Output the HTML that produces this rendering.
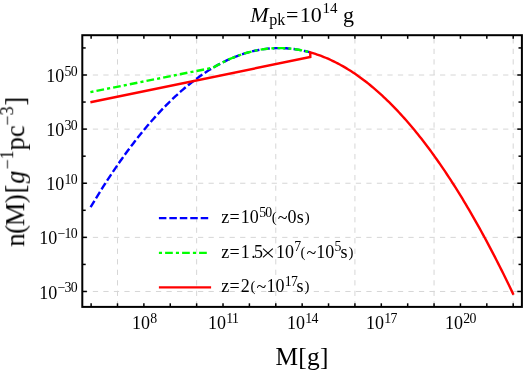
<!DOCTYPE html>
<html><head><meta charset="utf-8"><title>plot</title>
<style>html,body{margin:0;padding:0;background:#fff;}body{width:526px;height:373px;position:relative;overflow:hidden;font-family:"Liberation Serif",serif;}</style>
</head><body>
<svg width="526" height="373" viewBox="0 0 526 373" style="position:absolute;left:0;top:0">
<defs><filter id="nf" x="0" y="0" width="526" height="373" filterUnits="userSpaceOnUse" color-interpolation-filters="sRGB"><feOffset dx="0" dy="0"/></filter></defs>
<rect width="526" height="373" fill="#fff"/>
<g stroke="#d6d6d6" stroke-width="1" stroke-dasharray="5.26,5.26" fill="none">
<line x1="117.50" x2="117.50" y1="306.50" y2="35.20"/>
<line x1="196.64" x2="196.64" y1="306.50" y2="35.20"/>
<line x1="275.78" x2="275.78" y1="306.50" y2="35.20"/>
<line x1="354.92" x2="354.92" y1="306.50" y2="35.20"/>
<line x1="434.06" x2="434.06" y1="306.50" y2="35.20"/>
<line x1="513.20" x2="513.20" y1="306.50" y2="35.20"/>
<line x1="82.30" x2="521.90" y1="75.00" y2="75.00"/>
<line x1="82.30" x2="521.90" y1="129.12" y2="129.12"/>
<line x1="82.30" x2="521.90" y1="183.24" y2="183.24"/>
<line x1="82.30" x2="521.90" y1="237.36" y2="237.36"/>
<line x1="82.30" x2="521.90" y1="291.48" y2="291.48"/>
</g>
<g fill="none" stroke-width="2.4" stroke-linejoin="miter">
<path d="M90.60,207.23 L92.45,204.14 L94.29,201.07 L96.14,198.03 L97.98,195.02 L99.83,192.04 L101.68,189.10 L103.52,186.18 L105.37,183.29 L107.22,180.44 L109.06,177.61 L110.91,174.82 L112.75,172.05 L114.60,169.32 L116.45,166.62 L118.29,163.94 L120.14,161.30 L121.99,158.69 L123.83,156.11 L125.68,153.56 L127.52,151.04 L129.37,148.55 L131.22,146.09 L133.06,143.66 L134.91,141.26 L136.76,138.90 L138.60,136.56 L140.45,134.25 L142.29,131.97 L144.14,129.73 L145.99,127.51 L147.83,125.33 L149.68,123.17 L151.53,121.05 L153.37,118.96 L155.22,116.89 L157.06,114.86 L158.91,112.86 L160.76,110.89 L162.60,108.95 L164.45,107.04 L166.29,105.15 L168.14,103.31 L169.99,101.49 L171.83,99.70 L173.68,97.94 L175.53,96.21 L177.37,94.51 L179.22,92.85 L181.06,91.21 L182.91,89.60 L184.76,88.03 L186.60,86.48 L188.45,84.97 L190.30,83.49 L192.14,82.03 L193.99,80.61 L195.83,79.22 L197.68,77.86 L199.53,76.52 L201.37,75.22 L203.22,73.95 L205.07,72.71 L206.91,71.50 L208.76,70.32 L210.60,69.17 L212.45,68.06 L214.30,66.97 L216.14,65.91 L217.99,64.88 L219.84,63.89 L221.68,62.92 L223.53,61.99 L225.37,61.08 L227.22,60.21 L229.07,59.36 L230.91,58.55 L232.76,57.77 L234.61,57.02 L236.45,56.29 L238.30,55.60 L240.14,54.94 L241.99,54.31 L243.84,53.71 L245.68,53.14 L247.53,52.60 L249.37,52.09 L251.22,51.62 L253.07,51.17 L254.91,50.75 L256.76,50.36 L258.61,50.01 L260.45,49.68 L262.30,49.39 L264.14,49.12 L265.99,48.89 L267.84,48.68 L269.68,48.51 L271.53,48.37 L273.38,48.25 L275.22,48.17 L277.07,48.12 L278.91,48.10 L280.76,48.11 L282.61,48.15 L284.45,48.22 L286.30,48.32 L288.15,48.45 L289.99,48.62 L291.84,48.81 L293.68,49.03 L295.53,49.28 L297.38,49.57 L299.22,49.88 L301.07,50.23 L302.92,50.60 L304.76,51.01 L306.61,51.45 L308.45,51.91 L310.30,52.41" stroke="#0000ff" stroke-dasharray="7.5,2.95"/>
<path d="M90.40,92.10 L212.30,67.84 L213.96,67.16 L215.62,66.21 L217.28,65.27 L218.94,64.37 L220.61,63.48 L222.27,62.62 L223.93,61.79 L225.59,60.98 L227.25,60.19 L228.91,59.43 L230.57,58.70 L232.23,57.99 L233.89,57.30 L235.55,56.64 L237.22,56.00 L238.88,55.39 L240.54,54.80 L242.20,54.24 L243.86,53.70 L245.52,53.19 L247.18,52.70 L248.84,52.24 L250.50,51.80 L252.16,51.38 L253.83,50.99 L255.49,50.63 L257.15,50.29 L258.81,49.97 L260.47,49.68 L262.13,49.41 L263.79,49.17 L265.45,48.95 L267.11,48.76 L268.77,48.59 L270.44,48.45 L272.10,48.33 L273.76,48.24 L275.42,48.17 L277.08,48.12 L278.74,48.10 L280.40,48.11 L282.06,48.14 L283.72,48.19 L285.38,48.27 L287.05,48.37 L288.71,48.50 L290.37,48.65 L292.03,48.83 L293.69,49.03 L295.35,49.26 L297.01,49.51 L298.67,49.79 L300.33,50.09 L301.99,50.41 L303.66,50.76 L305.32,51.14 L306.98,51.54 L308.64,51.96 L310.30,52.41" stroke="#00ff00" stroke-dasharray="3.1,3.1,7.7,3.1"/>
<path d="M90.40,102.20 L310.30,57.00 L310.30,52.41 L312.01,52.90 L313.72,53.41 L315.42,53.95 L317.13,54.52 L318.84,55.11 L320.55,55.73 L322.25,56.37 L323.96,57.04 L325.67,57.74 L327.38,58.46 L329.08,59.21 L330.79,59.99 L332.50,60.79 L334.21,61.62 L335.91,62.47 L337.62,63.35 L339.33,64.25 L341.04,65.19 L342.74,66.14 L344.45,67.13 L346.16,68.14 L347.87,69.18 L349.57,70.24 L351.28,71.33 L352.99,72.44 L354.70,73.59 L356.40,74.75 L358.11,75.95 L359.82,77.17 L361.53,78.42 L363.23,79.69 L364.94,80.99 L366.65,82.31 L368.36,83.66 L370.06,85.04 L371.77,86.45 L373.48,87.88 L375.19,89.33 L376.89,90.81 L378.60,92.32 L380.31,93.86 L382.02,95.42 L383.73,97.01 L385.43,98.62 L387.14,100.26 L388.85,101.93 L390.56,103.62 L392.26,105.34 L393.97,107.08 L395.68,108.86 L397.39,110.65 L399.09,112.48 L400.80,114.33 L402.51,116.21 L404.22,118.11 L405.92,120.04 L407.63,121.99 L409.34,123.97 L411.05,125.98 L412.75,128.02 L414.46,130.08 L416.17,132.17 L417.88,134.28 L419.58,136.42 L421.29,138.58 L423.00,140.78 L424.71,143.00 L426.41,145.24 L428.12,147.51 L429.83,149.81 L431.54,152.13 L433.24,154.48 L434.95,156.86 L436.66,159.26 L438.37,161.69 L440.07,164.15 L441.78,166.63 L443.49,169.14 L445.20,171.67 L446.91,174.23 L448.61,176.82 L450.32,179.44 L452.03,182.08 L453.74,184.74 L455.44,187.44 L457.15,190.16 L458.86,192.90 L460.57,195.67 L462.27,198.47 L463.98,201.30 L465.69,204.15 L467.40,207.03 L469.10,209.93 L470.81,212.86 L472.52,215.82 L474.23,218.80 L475.93,221.81 L477.64,224.85 L479.35,227.91 L481.06,231.00 L482.76,234.12 L484.47,237.26 L486.18,240.43 L487.89,243.62 L489.59,246.84 L491.30,250.09 L493.01,253.37 L494.72,256.67 L496.42,259.99 L498.13,263.35 L499.84,266.73 L501.55,270.13 L503.25,273.57 L504.96,277.03 L506.67,280.51 L508.38,284.02 L510.08,287.56 L511.79,291.13 L513.50,294.72" stroke="#ff0000"/>
</g>
<g fill="none" stroke-width="2.2">
<line x1="158.9" x2="208.2" y1="218.05" y2="218.05" stroke="#0000ff" stroke-dasharray="7.5,2.95"/>
<line x1="158.9" x2="207.2" y1="252.9" y2="252.9" stroke="#00ff00" stroke-dasharray="3.1,3.1,7.7,3.1"/>
<line x1="158.9" x2="211.1" y1="287.4" y2="287.4" stroke="#ff0000"/>
</g>
<g stroke="#000" stroke-width="1.5" fill="none">
<line x1="91.12" x2="91.12" y1="306.90" y2="303.30"/>
<line x1="91.12" x2="91.12" y1="35.20" y2="38.80"/>
<line x1="117.50" x2="117.50" y1="306.90" y2="303.30"/>
<line x1="117.50" x2="117.50" y1="35.20" y2="38.80"/>
<line x1="143.88" x2="143.88" y1="306.90" y2="303.30"/>
<line x1="143.88" x2="143.88" y1="35.20" y2="38.80"/>
<line x1="170.26" x2="170.26" y1="306.90" y2="303.30"/>
<line x1="170.26" x2="170.26" y1="35.20" y2="38.80"/>
<line x1="196.64" x2="196.64" y1="306.90" y2="303.30"/>
<line x1="196.64" x2="196.64" y1="35.20" y2="38.80"/>
<line x1="223.02" x2="223.02" y1="306.90" y2="303.30"/>
<line x1="223.02" x2="223.02" y1="35.20" y2="38.80"/>
<line x1="249.40" x2="249.40" y1="306.90" y2="303.30"/>
<line x1="249.40" x2="249.40" y1="35.20" y2="38.80"/>
<line x1="275.78" x2="275.78" y1="306.90" y2="303.30"/>
<line x1="275.78" x2="275.78" y1="35.20" y2="38.80"/>
<line x1="302.16" x2="302.16" y1="306.90" y2="303.30"/>
<line x1="302.16" x2="302.16" y1="35.20" y2="38.80"/>
<line x1="328.54" x2="328.54" y1="306.90" y2="303.30"/>
<line x1="328.54" x2="328.54" y1="35.20" y2="38.80"/>
<line x1="354.92" x2="354.92" y1="306.90" y2="303.30"/>
<line x1="354.92" x2="354.92" y1="35.20" y2="38.80"/>
<line x1="381.30" x2="381.30" y1="306.90" y2="303.30"/>
<line x1="381.30" x2="381.30" y1="35.20" y2="38.80"/>
<line x1="407.68" x2="407.68" y1="306.90" y2="303.30"/>
<line x1="407.68" x2="407.68" y1="35.20" y2="38.80"/>
<line x1="434.06" x2="434.06" y1="306.90" y2="303.30"/>
<line x1="434.06" x2="434.06" y1="35.20" y2="38.80"/>
<line x1="460.44" x2="460.44" y1="306.90" y2="303.30"/>
<line x1="460.44" x2="460.44" y1="35.20" y2="38.80"/>
<line x1="486.82" x2="486.82" y1="306.90" y2="303.30"/>
<line x1="486.82" x2="486.82" y1="35.20" y2="38.80"/>
<line x1="513.20" x2="513.20" y1="306.90" y2="303.30"/>
<line x1="513.20" x2="513.20" y1="35.20" y2="38.80"/>
<line x1="82.30" x2="86.90" y1="291.48" y2="291.48"/>
<line x1="521.90" x2="517.30" y1="291.48" y2="291.48"/>
<line x1="82.30" x2="85.70" y1="264.42" y2="264.42"/>
<line x1="521.90" x2="518.50" y1="264.42" y2="264.42"/>
<line x1="82.30" x2="86.90" y1="237.36" y2="237.36"/>
<line x1="521.90" x2="517.30" y1="237.36" y2="237.36"/>
<line x1="82.30" x2="85.70" y1="210.30" y2="210.30"/>
<line x1="521.90" x2="518.50" y1="210.30" y2="210.30"/>
<line x1="82.30" x2="86.90" y1="183.24" y2="183.24"/>
<line x1="521.90" x2="517.30" y1="183.24" y2="183.24"/>
<line x1="82.30" x2="85.70" y1="156.18" y2="156.18"/>
<line x1="521.90" x2="518.50" y1="156.18" y2="156.18"/>
<line x1="82.30" x2="86.90" y1="129.12" y2="129.12"/>
<line x1="521.90" x2="517.30" y1="129.12" y2="129.12"/>
<line x1="82.30" x2="85.70" y1="102.06" y2="102.06"/>
<line x1="521.90" x2="518.50" y1="102.06" y2="102.06"/>
<line x1="82.30" x2="86.90" y1="75.00" y2="75.00"/>
<line x1="521.90" x2="517.30" y1="75.00" y2="75.00"/>
<line x1="82.30" x2="85.70" y1="47.94" y2="47.94"/>
<line x1="521.90" x2="518.50" y1="47.94" y2="47.94"/>
</g>
<rect x="82.30" y="35.20" width="439.60" height="271.70" fill="none" stroke="#000" stroke-width="2.0"/>
<g font-family="'Liberation Serif', serif" fill="#000" filter="url(#nf)">
<text x="144.20" y="329.00" font-size="18" text-anchor="middle">10<tspan font-size="13.8" dy="-6.2" dx="0.3" letter-spacing="-0.7">8</tspan></text>
<text x="223.10" y="329.00" font-size="18" text-anchor="middle">10<tspan font-size="13.8" dy="-6.2" dx="0.3" letter-spacing="-0.7">11</tspan></text>
<text x="302.30" y="329.00" font-size="18" text-anchor="middle">10<tspan font-size="13.8" dy="-6.2" dx="0.3" letter-spacing="-0.7">14</tspan></text>
<text x="381.30" y="329.00" font-size="18" text-anchor="middle">10<tspan font-size="13.8" dy="-6.2" dx="0.3" letter-spacing="-0.7">17</tspan></text>
<text x="460.40" y="329.00" font-size="18" text-anchor="middle">10<tspan font-size="13.8" dy="-6.2" dx="0.3" letter-spacing="-0.7">20</tspan></text>
<text x="77.00" y="82.10" font-size="18" text-anchor="end">10<tspan font-size="13.8" dy="-6.2" dx="0.3" letter-spacing="-0.7">50</tspan></text>
<text x="77.00" y="136.22" font-size="18" text-anchor="end">10<tspan font-size="13.8" dy="-6.2" dx="0.3" letter-spacing="-0.7">30</tspan></text>
<text x="77.00" y="190.34" font-size="18" text-anchor="end">10<tspan font-size="13.8" dy="-6.2" dx="0.3" letter-spacing="-0.7">10</tspan></text>
<text x="77.00" y="244.46" font-size="18" text-anchor="end">10<tspan font-size="13.8" dy="-6.2" dx="0.3" letter-spacing="-0.7">−10</tspan></text>
<text x="77.00" y="298.58" font-size="18" text-anchor="end">10<tspan font-size="13.8" dy="-6.2" dx="0.3" letter-spacing="-0.7">−30</tspan></text>
<text x="221.30" y="222.90" font-size="18"><tspan>z</tspan><tspan dx="0.2">=</tspan><tspan dx="1.2">10</tspan><tspan dx="0.3" dy="-6.4" font-size="13.8" letter-spacing="-0.7">50</tspan><tspan dx="0.15" dy="5.6" font-size="14.8" letter-spacing="0.5">(</tspan><tspan dx="0.5" dy="1.9">~</tspan><tspan dx="0.1" dy="-1.1">0</tspan><tspan dx="0.3">s</tspan><tspan dx="1.05" dy="-0.8" font-size="14.8" letter-spacing="0.5">)</tspan></text>
<text x="221.30" y="257.70" font-size="18"><tspan>z</tspan><tspan dx="0.2">=</tspan><tspan dx="1.2">1</tspan><tspan dx="1.5">.</tspan><tspan dx="-1.9">5</tspan><tspan dx="13.0">10</tspan><tspan dx="0.3" dy="-6.4" font-size="13.8" letter-spacing="-0.7">7</tspan><tspan dx="0.05" dy="5.6" font-size="14.8" letter-spacing="0.5">(</tspan><tspan dx="0.5" dy="1.9">~</tspan><tspan dx="0.1" dy="-1.1">10</tspan><tspan dx="0.3" dy="-6.4" font-size="13.8" letter-spacing="-0.7">5</tspan><tspan dx="-0.3" dy="6.4">s</tspan><tspan dx="1.05" dy="-0.8" font-size="14.8" letter-spacing="0.5">)</tspan></text>
<path d="M263.0,248.6 L272.8,257.3 M263.0,257.3 L272.8,248.6" stroke="#000" stroke-width="1.1" fill="none"/>
<text x="221.30" y="292.20" font-size="18"><tspan>z</tspan><tspan dx="0.2">=</tspan><tspan dx="1.2">2</tspan><tspan dx="0.75" dy="-0.8" font-size="14.8" letter-spacing="0.5">(</tspan><tspan dx="0.5" dy="1.9">~</tspan><tspan dx="0.1" dy="-1.1">10</tspan><tspan dx="0.3" dy="-6.4" font-size="13.8" letter-spacing="-0.7">17</tspan><tspan dx="-0.6" dy="6.4">s</tspan><tspan dx="1.05" dy="-0.8" font-size="14.8" letter-spacing="0.5">)</tspan></text>
<text y="21.7" font-size="22"><tspan x="250.3" font-style="italic">M</tspan><tspan x="269.2" font-size="16.1" dy="3.6">pk</tspan><tspan x="286.0" dy="-3.6">=</tspan><tspan x="299.7">10</tspan><tspan x="322.6" font-size="15" dy="-9.2">14</tspan><tspan x="343.0" dy="9.2">g</tspan></text>
<text x="275.6" y="365.4" font-size="25.4" letter-spacing="0.2">M[g]</text>
<text transform="translate(24.2,246.6) rotate(-90)" font-size="26.5">n<tspan dx="-0.6">(</tspan><tspan dx="-0.9">M</tspan><tspan dx="-0.6">)</tspan><tspan dx="0.8">[</tspan><tspan font-style="italic" dx="1.0">ɡ</tspan><tspan font-size="18" dy="-10.8" dx="0.9">−1</tspan><tspan dy="10.8" dx="0">pc</tspan><tspan font-size="18" dy="-10.8" dx="-0.3">−3</tspan><tspan dy="10.8" dx="0.7">]</tspan></text>
</g>
</svg>
</body></html>
